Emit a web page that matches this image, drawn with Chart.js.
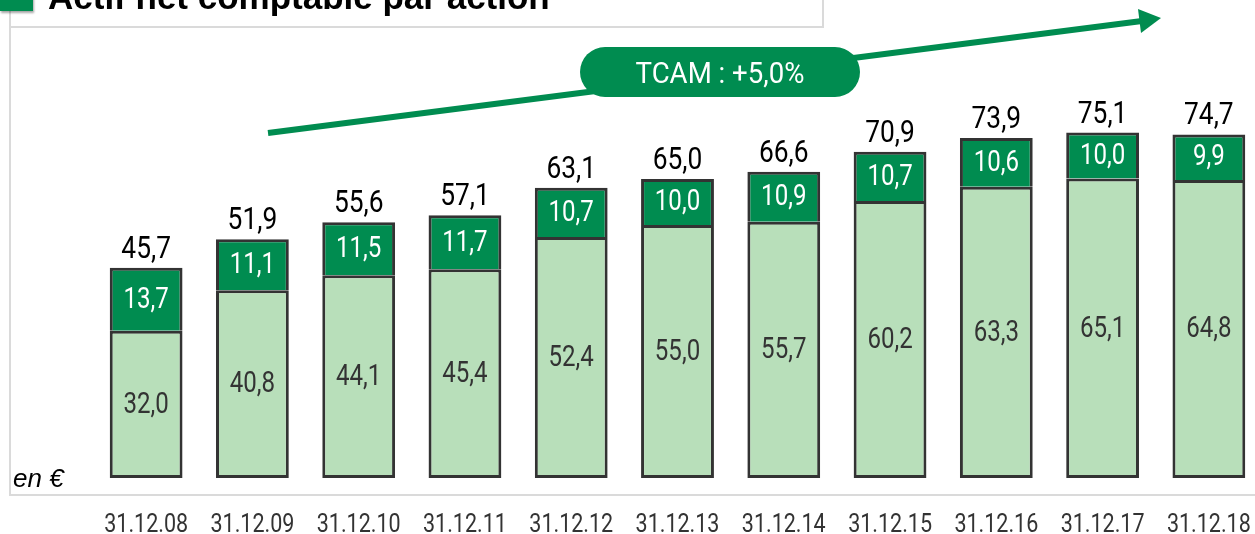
<!DOCTYPE html>
<html>
<head>
<meta charset="utf-8">
<script src="https://cdn.jsdelivr.net/npm/chart.js@4/dist/chart.umd.min.js"></script>
<style>
  html, body { margin: 0; padding: 0; background: #fff; overflow: hidden; width: 1255px; height: 534px; }
  #anrChart { position: absolute; left: 0; top: 0; }
  .titlebox { position: absolute; left: 9px; top: -12px; width: 811px; height: 38px; border: 2px solid #dadada; border-top: none; background: #fff; }
  .frame-left { position: absolute; left: 9px; top: 26px; width: 2px; height: 470px; background: #dadada; }
  .frame-bottom { position: absolute; left: 9px; top: 494px; width: 1246px; height: 2px; background: #dadada; }
  .square { position: absolute; left: 0; top: -12px; width: 33px; height: 23px; background: #008c50; box-shadow: 1px 2px 2px rgba(0,0,0,0.35); z-index: 2; }
  .title { position: absolute; left: 48px; top: -21px; font: bold 35px/35px "Liberation Sans", Arial, sans-serif; color: #000; white-space: nowrap; z-index: 2; }
  .unit { position: absolute; left: 13px; top: 465px; font: italic 26px/26px "Liberation Sans", Arial, sans-serif; color: #000; z-index: 2; }
</style>
</head>
<body>
<div class="frame-left"></div>
<div class="frame-bottom"></div>
<div class="titlebox"></div>
<div class="square"></div>
<div class="title">Actif net comptable par action</div>
<div class="unit">en €</div>
<canvas id="anrChart" width="1275" height="534"></canvas>
<script>
const dates = ["31.12.08", "31.12.09", "31.12.10", "31.12.11", "31.12.12", "31.12.13",
               "31.12.14", "31.12.15", "31.12.16", "31.12.17", "31.12.18"];
const baseValues = [32.0, 40.8, 44.1, 45.4, 52.4, 55.0, 55.7, 60.2, 63.3, 65.1, 64.8];
const topValues = [13.7, 11.1, 11.5, 11.7, 10.7, 10.0, 10.9, 10.7, 10.6, 10.0, 9.9];
const totals = [45.7, 51.9, 55.6, 57.1, 63.1, 65.0, 66.6, 70.9, 73.9, 75.1, 74.7];
const tcamLabel = "TCAM : +5,0%";

const vert = "#008c50";
const vertClair = "#b8dfba";
const bordure = "#333333";

const fmt = v => v.toFixed(1).replace(".", ",");

// texte Roboto resserré horizontalement (rendu proche d'une police condensée)
function texteEtroit(ctx, txt, x, y, font, color, baseline, sx) {
    ctx.save();
    ctx.translate(x, y);
    ctx.scale(sx, 1);
    ctx.font = font;
    ctx.textAlign = "center";
    ctx.textBaseline = baseline;
    ctx.fillStyle = color;
    ctx.fillText(txt, 0, 0);
    ctx.restore();
}

// étiquettes des segments + totaux au-dessus des barres
const etiquettes = {
    id: "etiquettes",
    afterDatasetsDraw(chart) {
        const ctx = chart.ctx;
        chart.data.datasets.forEach((ds, i) => {
            const meta = chart.getDatasetMeta(i);
            meta.data.forEach((bar, j) => {
                const p = bar.getProps(["x", "y", "base"], true);
                texteEtroit(ctx, fmt(ds.data[j]), p.x, (p.y + p.base) / 2 + 1, "29px Roboto",
                    i === 0 ? "#333" : "#fff", "middle", 0.83);
                if (i === 1) {
                    texteEtroit(ctx, fmt(totals[j]), p.x, p.y - 10, "31px Roboto", "#000", "alphabetic", 0.85);
                }
            });
        });
    }
};

// dates sous l'axe x, placées par l'échelle
const dates_x = {
    id: "dates_x",
    afterDraw(chart) {
        const sx = chart.scales.x;
        chart.data.labels.forEach((lab, i) => {
            texteEtroit(chart.ctx, lab, sx.getPixelForTick(i), 532, "25px Roboto", "#333", "alphabetic", 0.86);
        });
    }
};

// flèche TCAM
const fleche = {
    id: "fleche",
    afterDraw(chart) {
        const ctx = chart.ctx;
        ctx.save();
        ctx.strokeStyle = vert;
        ctx.fillStyle = vert;
        ctx.lineWidth = 6;
        ctx.beginPath();
        ctx.moveTo(268, 133);
        ctx.lineTo(1142, 21);
        ctx.stroke();
        ctx.beginPath();
        ctx.moveTo(1161, 18);
        ctx.lineTo(1138, 9);
        ctx.lineTo(1141, 33);
        ctx.closePath();
        ctx.fill();

        ctx.beginPath();
        ctx.roundRect(580, 47, 280, 50, 25);
        ctx.fill();
        ctx.restore();
        texteEtroit(ctx, tcamLabel, 720, 83, "30px Roboto", "#fff", "alphabetic", 0.92);
    }
};

new Chart(document.getElementById("anrChart"), {
    type: "bar",
    data: {
        labels: dates,
        datasets: [
            {
                data: baseValues,
                backgroundColor: vertClair,
                borderColor: bordure,
                borderWidth: 3,
                borderSkipped: false
            },
            {
                data: topValues,
                backgroundColor: vert,
                borderColor: bordure,
                borderWidth: 3,
                borderSkipped: "start"
            }
        ]
    },
    options: {
        responsive: false,
        animation: false,
        layout: { padding: { left: 93, right: 13, top: 18, bottom: 0 } },
        plugins: { legend: { display: false }, tooltip: { enabled: false } },
        datasets: { bar: { categoryPercentage: 1, barPercentage: 0.685 } },
        scales: {
            x: {
                stacked: true,
                grid: { display: false, drawTicks: false },
                border: { display: false },
                ticks: { display: false },
                afterFit(scale) { scale.height = 56; }
            },
            y: {
                stacked: true,
                display: false,
                min: 0,
                max: 100
            }
        }
    },
    plugins: [etiquettes, dates_x, fleche]
});
</script>
</body>
</html>
